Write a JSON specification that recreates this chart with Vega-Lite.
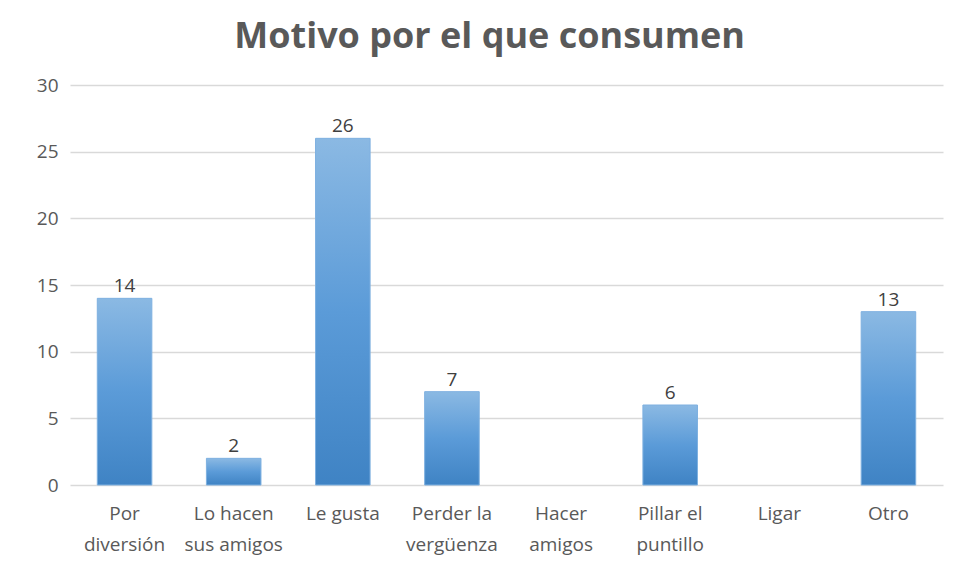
{
  "$schema": "https://vega.github.io/schema/vega-lite/v6.json",
  "width": 873,
  "height": 400,
  "autosize": {"type": "none"},
  "padding": {"left": 70, "top": 85, "right": 13, "bottom": 91},
  "background": "white",
  "title": {
    "text": "Motivo por el que consumen",
    "fontSize": 36,
    "font": "Open Sans",
    "fontWeight": "bold",
    "color": "#595959",
    "offset": 20,
    "anchor": "middle",
    "frame": "bounds"
  },
  "data": {
    "values": [
      {"motivo": "Por|diversión", "valor": 14},
      {"motivo": "Lo hacen|sus amigos", "valor": 2},
      {"motivo": "Le gusta", "valor": 26},
      {"motivo": "Perder la|vergüenza", "valor": 7},
      {"motivo": "Hacer|amigos", "valor": 0},
      {"motivo": "Pillar el|puntillo", "valor": 6},
      {"motivo": "Ligar", "valor": 0},
      {"motivo": "Otro", "valor": 13}
    ]
  },
  "encoding": {
    "x": {
      "field": "motivo",
      "type": "nominal",
      "sort": null,
      "scale": {"paddingInner": 0.5, "paddingOuter": 0.25},
      "axis": {
        "title": null,
        "labelAngle": 0,
        "labelExpr": "split(datum.label, '|')",
        "labelFont": "Open Sans",
        "labelFontSize": 19,
        "labelColor": "#595959",
        "labelLineHeight": 31,
        "labelPadding": 19,
        "ticks": false,
        "domain": false,
        "labelBaseline": "top"
      }
    },
    "y": {
      "field": "valor",
      "type": "quantitative",
      "scale": {"domain": [0, 30]},
      "axis": {
        "title": null,
        "values": [0, 5, 10, 15, 20, 25, 30],
        "labelFont": "Open Sans",
        "labelFontSize": 19,
        "labelColor": "#595959",
        "labelPadding": 12,
        "ticks": false,
        "domain": false,
        "gridColor": "#d9d9d9",
        "gridWidth": 1.5
      }
    }
  },
  "layer": [
    {
      "mark": {
        "type": "bar",
        "color": {
          "gradient": "linear",
          "x1": 0, "y1": 0, "x2": 0, "y2": 1,
          "stops": [
            {"offset": 0, "color": "#8bb9e3"},
            {"offset": 0.5, "color": "#5b9bd8"},
            {"offset": 1, "color": "#3f83c4"}
          ]
        },
        "stroke": "#7eb0e0",
        "strokeWidth": 1
      },
      "encoding": {
        "strokeOpacity": {
          "condition": {"test": "datum.valor > 0", "value": 1},
          "value": 0
        }
      }
    },
    {
      "transform": [{"filter": "datum.valor > 0"}],
      "mark": {
        "type": "text",
        "baseline": "bottom",
        "dy": -2,
        "font": "Open Sans",
        "fontSize": 19,
        "color": "#404040"
      },
      "encoding": {
        "text": {"field": "valor", "type": "quantitative"}
      }
    }
  ],
  "config": {
    "view": {"stroke": null}
  }
}
